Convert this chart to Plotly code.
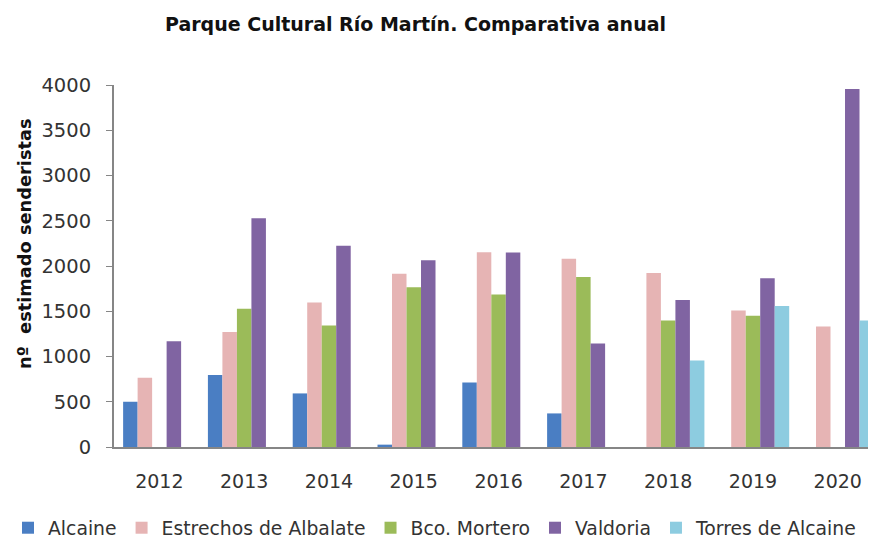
import plotly.graph_objects as go

years = ["2012", "2013", "2014", "2015", "2016", "2017", "2018", "2019", "2020"]
alcaine = [500, 795, 592, 26, 713, 371, None, None, None]
estrechos = [765, 1272, 1596, 1915, 2152, 2081, 1923, 1507, 1331]
bco_mortero = [None, 1529, 1342, 1765, 1684, 1879, 1397, 1449, None]
valdoria = [1169, 2529, 2224, 2063, 2150, 1143, 1625, 1864, 3956]
torres = [None, None, None, None, None, None, 956, 1559, 1397]

series = [
    ("Alcaine", alcaine, "#4A7EC3"),
    ("Estrechos de Albalate", estrechos, "#E6B4B4"),
    ("Bco. Mortero", bco_mortero, "#9BBB59"),
    ("Valdoria", valdoria, "#8064A2"),
    ("Torres de Alcaine", torres, "#8DCCE0"),
]

y_ticks = [0, 500, 1000, 1500, 2000, 2500, 3000, 3500, 4000]
y_title = "nº  estimado senderistas"

fig = go.Figure()
for name, vals, color in series:
    fig.add_trace(go.Bar(name=name, x=years, y=vals, marker_color=color,
                         marker_line_width=0))

FONT = "DejaVu Sans, sans-serif"
# page body has an 8px margin, so the figure is sized to fit the 876x547 window
W, H = 868, 539
ML, MR, MT, MB = 106, 0, 77, 100
PW, PH = W - ML - MR, H - MT - MB

fig.update_layout(
    width=W, height=H,
    paper_bgcolor="white", plot_bgcolor="white",
    barmode="group", bargap=0.145, bargroupgap=0,
    margin=dict(l=ML, r=MR, t=MT, b=MB, autoexpand=False),
    font=dict(family=FONT, size=19, color="#333333"),
    title=dict(text="<b>Parque Cultural Río Martín. Comparativa anual</b>",
               x=407.5 / W, xanchor="center", xref="container",
               y=1 - 16 / H, yanchor="middle", yref="container",
               font=dict(family=FONT, size=19, color="#111111")),
    legend=dict(orientation="h", x=-ML / PW, xanchor="left", y=-MB / PH, yanchor="bottom",
                font=dict(family=FONT, size=18.8, color="#333333"),
                itemwidth=30, tracegroupgap=0),
    showlegend=True,
)
fig.add_annotation(text="<b>" + y_title + "</b>", textangle=-90,
                   xref="paper", yref="paper",
                   x=(16 - ML) / PW, y=(H - MB - 236) / PH,
                   xanchor="center", yanchor="middle", showarrow=False,
                   font=dict(family=FONT, size=17.8, color="#111111"))
fig.update_xaxes(showline=True, linecolor="#868686", linewidth=2, automargin=False,
                 range=[-0.535, 8.451],
                 ticks="", ticklabelstandoff=16, showgrid=False,
                 tickfont=dict(size=19))
fig.update_yaxes(range=[0, 4000], tickvals=y_ticks, showline=True, automargin=False,
                 linecolor="#868686", linewidth=2, ticks="outside",
                 ticklen=6, tickcolor="#868686", showgrid=False, zeroline=False,
                 ticklabelstandoff=11, tickfont=dict(size=19.5))

fig.write_html("out.html")
